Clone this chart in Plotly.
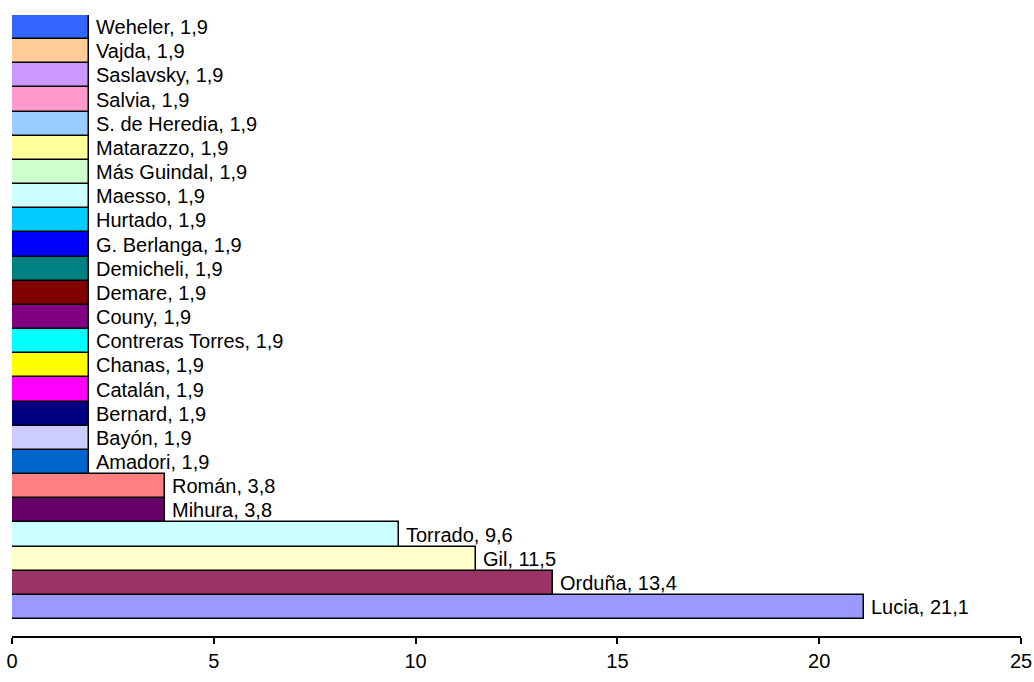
import plotly.graph_objects as go

names = ["Lucia", "Orduña", "Gil", "Torrado", "Mihura", "Román", "Amadori", "Bayón",
         "Bernard", "Catalán", "Chanas", "Contreras Torres", "Couny", "Demare",
         "Demicheli", "G. Berlanga", "Hurtado", "Maesso", "Más Guindal", "Matarazzo",
         "S. de Heredia", "Salvia", "Saslavsky", "Vajda", "Weheler"]
values = [21.1, 13.4, 11.5, 9.6, 3.8, 3.8, 1.9, 1.9, 1.9, 1.9, 1.9, 1.9, 1.9, 1.9,
          1.9, 1.9, 1.9, 1.9, 1.9, 1.9, 1.9, 1.9, 1.9, 1.9, 1.9]
colors = ["#9999FF", "#993366", "#FFFFCC", "#CCFFFF", "#660066", "#FF8080", "#0066CC",
          "#CCCCFF", "#000080", "#FF00FF", "#FFFF00", "#00FFFF", "#800080", "#800000",
          "#008080", "#0000FF", "#00CCFF", "#CCFFFF", "#CCFFCC", "#FFFF99", "#99CCFF",
          "#FF99CC", "#CC99FF", "#FFCC99", "#3366FF"]
x_ticks = [0, 5, 10, 15, 20, 25]

FONT = "Liberation Sans, Arial, sans-serif"

fig = go.Figure()
fig.add_trace(go.Bar(
    x=values, y=names, orientation="h",
    marker=dict(color=colors, line=dict(color="black", width=1.5)),
    hoverinfo="x+y",
))

annotations = []
for n, v in zip(names, values):
    annotations.append(dict(
        x=v, y=n, xref="x", yref="y",
        text=f"{n}, {str(v).replace('.', ',')}",
        showarrow=False, xanchor="left", yanchor="middle", xshift=5,
        font=dict(family=FONT, size=20, color="black"),
    ))

fig.update_layout(
    width=1034, height=682,
    margin=dict(l=12, r=13, t=15, b=46, autoexpand=False),
    paper_bgcolor="white", plot_bgcolor="white",
    bargap=0, showlegend=False,
    annotations=annotations,
    font=dict(family=FONT, size=20, color="black"),
    xaxis=dict(
        range=[0, 25], tickvals=x_ticks, ticktext=[str(t) for t in x_ticks],
        showline=True, linecolor="black", linewidth=2,
        ticks="outside", ticklen=6, tickwidth=2, tickcolor="black",
        showgrid=False, zeroline=False, automargin=False,
        tickfont=dict(family=FONT, size=20, color="black"),
    ),
    yaxis=dict(
        range=[-1.2, 24.5], categoryorder="array", categoryarray=names,
        visible=False, showgrid=False, automargin=False,
    ),
)

fig.write_html("out.html")
